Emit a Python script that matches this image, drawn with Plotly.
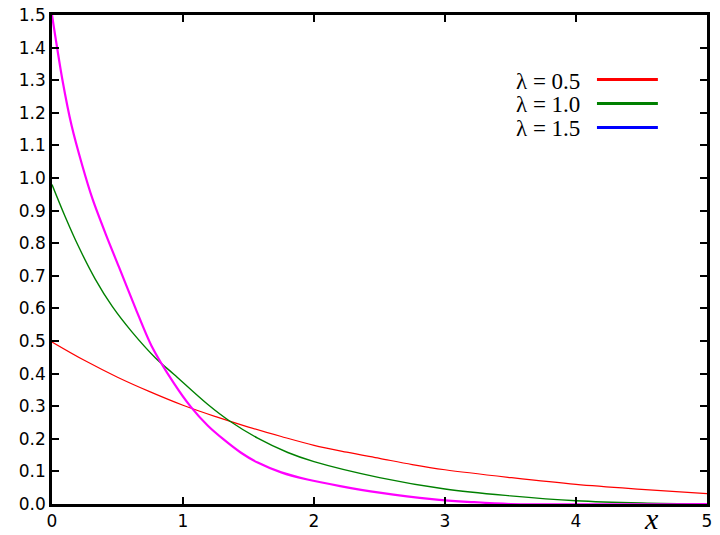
import plotly.graph_objects as go

# values
x_half = [0, 0.25, 0.5, 0.75, 1.0, 1.25, 1.5, 1.75, 2.0, 2.25, 2.5, 2.75, 3.0, 3.5, 4.0, 4.5, 5.0]
y_half = [0.497, 0.440, 0.389, 0.344, 0.303, 0.268, 0.236, 0.207, 0.180, 0.159, 0.140,
          0.121, 0.105, 0.081, 0.060, 0.045, 0.032]

x_one = [0, 0.1, 0.2, 0.33, 0.46, 0.61, 0.79, 0.93, 1.19, 1.35, 1.57, 1.8, 2.0, 2.5,
         3.0, 3.5, 4.0, 4.5, 5.0]
y_one = [0.98, 0.882, 0.792, 0.69, 0.606, 0.528, 0.448, 0.398, 0.305, 0.256, 0.202,
         0.158, 0.130, 0.081, 0.046, 0.025, 0.010, 0.003, 0.0]

x_three_half = [0, 0.08, 0.15, 0.23, 0.31, 0.41, 0.51, 0.64, 0.76, 0.93, 1.06, 1.19,
                1.31, 1.44, 1.57, 1.75, 1.95, 2.2, 2.5, 2.9, 3.2, 3.5, 5.0]
y_three_half = [1.5, 1.30, 1.16, 1.04, 0.935, 0.828, 0.728, 0.598, 0.485, 0.371, 0.298,
                0.240, 0.198, 0.158, 0.127, 0.097, 0.075, 0.055, 0.035, 0.015, 0.006,
                0.0, 0.0]

legend_names = ["λ = 0.5", "λ = 1.0", "λ = 1.5"]
legend_colors = ["#ff0000", "#008000", "#0000ff"]

fig = go.Figure()
fig.add_trace(go.Scatter(x=x_half, y=y_half, mode="lines", line_shape="spline",
                         line=dict(color="#ff0000", width=1.2)))
fig.add_trace(go.Scatter(x=x_one, y=y_one, mode="lines", line_shape="spline",
                         line=dict(color="#008000", width=1.4)))
fig.add_trace(go.Scatter(x=x_three_half, y=y_three_half, mode="lines",
                         line_shape="spline", line_smoothing=0.8,
                         line=dict(color="#ff00ff", width=2.2)))

# legend: text on the left, coloured swatch on the right
row_y = [0.865, 0.816, 0.767]
for name, color, yy in zip(legend_names, legend_colors, row_y):
    fig.add_annotation(x=0.809, y=yy, xref="paper", yref="paper", text=name,
                       showarrow=False, xanchor="right", yanchor="middle",
                       font=dict(family="Liberation Serif", size=23, color="black"))
    fig.add_shape(type="line", xref="paper", yref="paper", x0=0.832, x1=0.925,
                  y0=yy + 0.003, y1=yy + 0.003, line=dict(color=color, width=3))

fig.add_annotation(x=0.915, y=-0.03, xref="paper", yref="paper", text="<i>x</i>",
                   showarrow=False, xanchor="center", yanchor="middle",
                   font=dict(family="Liberation Serif", size=30, color="black"))

axis_style = dict(showline=True, linecolor="black", linewidth=2.5, mirror="ticks",
                  ticks="inside", ticklen=7, tickwidth=2, tickcolor="black",
                  showgrid=False, zeroline=False, automargin=False,
                  tickfont=dict(family="DejaVu Sans", size=17, color="black"))

fig.update_xaxes(range=[0, 5], dtick=1, **axis_style)
fig.update_yaxes(range=[0, 1.5], dtick=0.1, tickformat=".1f", **axis_style)

fig.update_layout(
    width=720, height=535,
    margin=dict(l=52, r=13, t=15, b=31),
    plot_bgcolor="white", paper_bgcolor="white",
    showlegend=False,
)

# drop the default page margin so the 720x535 figure fills the window
fig.write_html("out.html", config={"displayModeBar": False},
               post_script="document.body.style.margin='0';")
